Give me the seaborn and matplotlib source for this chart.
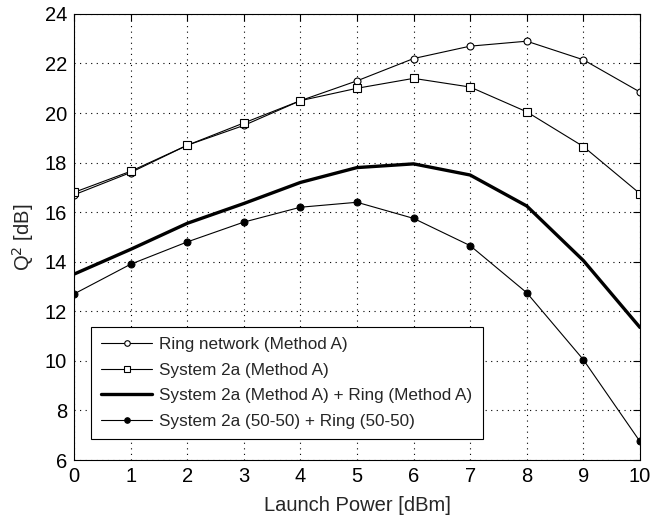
import seaborn as sns
import matplotlib.pyplot as plt
import pandas as pd

# launch power [dBm]
power = [0, 1, 2, 3, 4, 5, 6, 7, 8, 9, 10]

# Q^2 [dB] per configuration
ring_a = [16.7, 17.6, 18.7, 19.5, 20.5, 21.3, 22.2, 22.7, 22.9, 22.15, 20.85]
sys2a_a = [16.8, 17.65, 18.7, 19.6, 20.5, 21.0, 21.4, 21.05, 20.05, 18.65, 16.75]
sys2a_ring_a = [13.5, 14.5, 15.55, 16.35, 17.2, 17.8, 17.95, 17.5, 16.25, 14.05, 11.35]
sys2a_ring_5050 = [12.7, 13.9, 14.8, 15.6, 16.2, 16.4, 15.75, 14.65, 12.75, 10.05, 6.75]

labels = ["Ring network (Method A)",
          "System 2a (Method A)",
          "System 2a (Method A) + Ring (Method A)",
          "System 2a (50-50) + Ring (50-50)"]
x_ticks = list(range(0, 11))
y_ticks = list(range(6, 25, 2))

sns.set_style("white")
plt.rcParams['font.family'] = ['Liberation Sans', 'DejaVu Sans']

fig = plt.figure(figsize=(6.51, 5.16), dpi=100)
ax = fig.add_axes([0.1137, 0.1085, 0.8693, 0.8645])

df = pd.DataFrame({"x": power})
sns.lineplot(x=df["x"], y=ring_a, ax=ax, color="black", lw=0.8, marker="o",
             markersize=5, markerfacecolor="white", markeredgecolor="black",
             markeredgewidth=0.8, label=labels[0])
sns.lineplot(x=df["x"], y=sys2a_a, ax=ax, color="black", lw=0.8, marker="s",
             markersize=5.5, markerfacecolor="white", markeredgecolor="black",
             markeredgewidth=0.8, label=labels[1])
sns.lineplot(x=df["x"], y=sys2a_ring_a, ax=ax, color="black", lw=2.4,
             label=labels[2])
sns.lineplot(x=df["x"], y=sys2a_ring_5050, ax=ax, color="black", lw=0.8,
             marker="o", markersize=5, markerfacecolor="black",
             markeredgecolor="black", label=labels[3])

ax.set_xlim(0, 10)
ax.set_ylim(6, 24)
ax.set_xticks(x_ticks)
ax.set_yticks(y_ticks)
ax.grid(True, color="black", linestyle=(0, (1, 4)), linewidth=0.8)
ax.tick_params(direction="in", top=True, right=True, length=5, width=0.8,
               labelsize=14.5, colors="black", pad=5)
for s in ax.spines.values():
    s.set_color("black")
    s.set_linewidth(0.8)
ax.set_xlabel("Launch Power [dBm]", fontsize=14.5, labelpad=7)
ax.set_ylabel("Q$^2$ [dB]", fontsize=14.5, labelpad=6)

leg = ax.legend(loc="lower left", bbox_to_anchor=(0.03, 0.047), fontsize=12.3,
                frameon=True, fancybox=False, framealpha=1, edgecolor="black",
                handlelength=3, borderpad=0.6, labelspacing=0.62,
                borderaxespad=0, handletextpad=0.4, markerscale=0.8)
leg.get_frame().set_linewidth(0.8)

fig.savefig("out.png", dpi=100)
